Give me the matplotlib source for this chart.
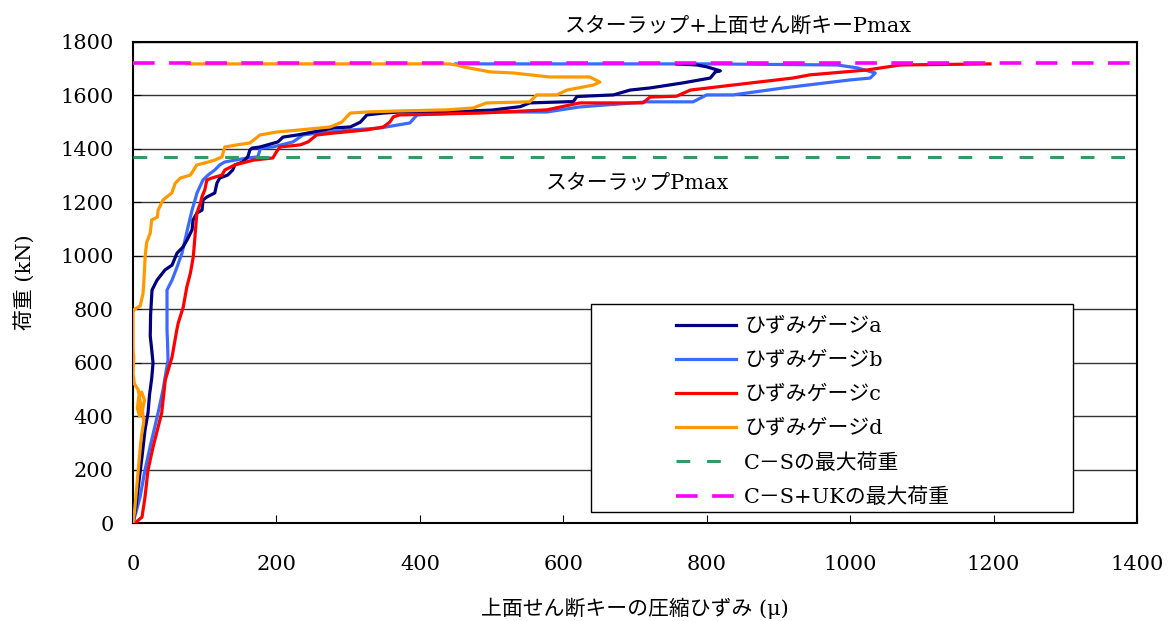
import matplotlib
matplotlib.use("Agg")
import matplotlib.pyplot as plt
from matplotlib.patches import Rectangle

plt.rcParams['font.family'] = ['DejaVu Serif', 'Noto Sans CJK JP', 'DejaVu Sans']

# ── Measured curves (strain in μ, load in kN) ─────────────────────────
a_x = [0, 4, 8, 12.5, 16.7, 20.9, 23, 26, 27.9, 26, 24, 24.5, 26.5, 33.5, 44.6, 54.4,
       61.4, 69.7, 75.3, 82.3, 83.7, 89.2, 96.2, 97.6, 103, 114, 117, 121, 132, 139, 142,
       153, 160, 163, 166, 177, 202, 209, 229, 251, 279, 303, 317, 326, 349, 372, 450,
       500, 540, 553, 614, 619, 670, 693, 721, 767, 805, 812, 819, 800, 786, 758]
a_y = [0, 60, 150, 247, 348, 412, 480, 540, 599, 650, 700, 780, 872, 909, 947, 965,
       1010, 1033, 1059, 1097, 1134, 1160, 1171, 1209, 1220, 1235, 1272, 1291, 1302, 1321, 1340,
       1351, 1370, 1396, 1403, 1407, 1426, 1444, 1452, 1463, 1478, 1482, 1500, 1527, 1534, 1538, 1540,
       1545, 1558, 1572, 1577, 1596, 1602, 1620, 1628, 1647, 1665, 1688, 1692, 1707, 1714, 1718]

b_x = [0, 9.8, 16.7, 23.7, 34.9, 41.8, 48.8, 48, 47.4, 47.4, 54.4, 61.4, 68.3, 72.5, 76.7,
       82.3, 86.5, 89.2, 97.6, 104.6, 114, 121, 128, 142, 160, 174, 177, 177, 195, 223, 237,
       257, 300, 344, 386, 396, 484, 577, 623, 717, 781, 800, 837, 907, 1000, 1028, 1035,
       1010, 982, 800, 450]
b_y = [0, 97, 198, 284, 412, 498, 610, 685, 722, 872, 909, 958, 1010, 1059, 1108,
       1171, 1209, 1235, 1284, 1302, 1321, 1340, 1351, 1358, 1366, 1370, 1396, 1403, 1407, 1426, 1452,
       1459, 1470, 1478, 1497, 1527, 1538, 1538, 1557, 1576, 1576, 1602, 1602, 1628, 1658, 1665, 1684,
       1703, 1714, 1718, 1718]

c_x = [2.8, 12.5, 16.7, 20.9, 27.9, 40, 45, 54.4, 61, 63, 70, 75, 80, 84, 86, 89, 94, 96,
       100, 103, 110, 124, 128, 142, 168, 195, 200, 205, 233, 244, 256, 279, 326, 349, 358,
       363, 372, 484, 577, 623, 711, 721, 758, 777, 837, 920, 944, 1023, 1070, 1195]
c_y = [0, 22, 97, 198, 284, 412, 535, 621, 722, 748, 808, 883, 935, 996, 1059, 1160, 1197, 1220,
       1246, 1284, 1291, 1302, 1321, 1340, 1358, 1366, 1389, 1407, 1415, 1426, 1452, 1459, 1471, 1482, 1500,
       1520, 1527, 1534, 1546, 1572, 1572, 1594, 1597, 1620, 1639, 1665, 1677, 1695, 1714, 1718]

d_x = [0, 2, 4, 6, 8, 10, 12, 15, 13, 16, 12, 8, 6, 9, 11, 7, 2, 0, 1, 0, 0, 0, 2, 10, 14,
       15, 17, 19, 24, 26, 34, 35, 42, 47, 54, 59, 66, 80, 89, 100, 114, 124, 128, 145, 163,
       177, 200, 233, 275, 291, 303, 326, 372, 437, 474, 493, 553, 563, 591, 605, 642, 651,
       637, 581, 530, 498, 460, 451, 440, 75]
d_y = [0, 40, 100, 160, 220, 280, 330, 380, 420, 460, 490, 470, 430, 400, 440, 500, 520, 560,
       620, 650, 700, 790, 800, 812, 860, 900, 1000, 1050, 1085, 1134, 1145, 1171, 1209, 1220, 1235,
       1272, 1291, 1302, 1340, 1347, 1358, 1370, 1407, 1415, 1422, 1452, 1463, 1471, 1482, 1500, 1534,
       1538, 1542, 1546, 1553, 1572, 1576, 1602, 1602, 1620, 1639, 1650, 1669, 1669, 1684, 1688, 1707,
       1714, 1718, 1718]

cs_max = 1370      # C-S の最大荷重
csuk_max = 1720    # C-S+UK の最大荷重

labels = ["ひずみゲージa", "ひずみゲージb", "ひずみゲージc", "ひずみゲージd",
          "C－Sの最大荷重", "C－S+UKの最大荷重"]
colors = ["#000080", "#3A6BFF", "#FF0000", "#FF9900", "#339966", "#FF00FF"]

fig = plt.figure(figsize=(11.7, 6.21), dpi=100)
ax = fig.add_axes([0.1137, 0.1578, 0.8581, 0.7746])

lw = 2.3
lb, = ax.plot(b_x, b_y, color=colors[1], lw=lw, zorder=3)
la, = ax.plot(a_x, a_y, color=colors[0], lw=lw, zorder=4)
lc, = ax.plot(c_x, c_y, color=colors[2], lw=lw, zorder=5)
ld, = ax.plot(d_x, d_y, color=colors[3], lw=lw, zorder=6)
lg = ax.axhline(cs_max, color=colors[4], lw=2.2, ls=(0, (4.5, 5.5)), zorder=7)
lm = ax.axhline(csuk_max, color=colors[5], lw=2.6, ls=(0, (6, 4)), zorder=7)

ax.set_xlim(0, 1400)
ax.set_ylim(0, 1800)
ax.set_xticks(range(0, 1401, 200))
ax.set_yticks(range(0, 1801, 200))
ax.yaxis.grid(True, color="#333333", lw=1)
ax.set_axisbelow(True)
ax.tick_params(axis="both", direction="in", length=6, labelsize=15, colors="black")
ax.tick_params(axis="y", pad=14)
ax.tick_params(axis="x", pad=23)
for s in ax.spines.values():
    s.set_linewidth(1.5)

ax.set_ylabel("荷重 (kN)", fontsize=15, labelpad=18)
ax.set_xlabel("上面せん断キーの圧縮ひずみ (μ)", fontsize=15, labelpad=17)

ax.text(844, 1860, "スターラップ+上面せん断キーPmax", fontsize=15, ha="center", va="center",
        clip_on=False)
ax.text(704, 1272, "スターラップPmax", fontsize=15, ha="center", va="center")

# legend box drawn separately so its size can match the original
ax.add_patch(Rectangle((0.456, 0.023), 0.48, 0.432, transform=ax.transAxes,
                       facecolor="white", edgecolor="black", lw=1, zorder=9))
leg = ax.legend([la, lb, lc, ld, lg, lm], labels, loc="upper left",
                bbox_to_anchor=(0.53, 0.45), frameon=False, fontsize=15,
                handlelength=2.9, handletextpad=0.4, labelspacing=0.72, borderpad=0)
leg.set_zorder(10)

fig.savefig("out.png", dpi=100)
